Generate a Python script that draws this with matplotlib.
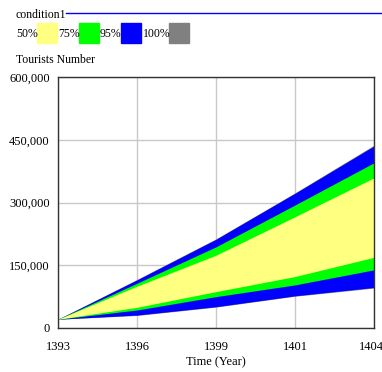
import matplotlib
matplotlib.use("Agg")
import matplotlib.pyplot as plt
import matplotlib.transforms as mtransforms
from matplotlib.patches import Rectangle
from matplotlib.lines import Line2D

years = [1393, 1395.75, 1398.5, 1401.25, 1404]
tick_labels = ["1393", "1396", "1399", "1401", "1404"]

# confidence bounds (tourists)
p100_hi = [21000, 116000, 213000, 323000, 437000]
p95_hi = [21000, 115000, 212000, 322000, 435000]
p75_hi = [21000, 107000, 194000, 294000, 395000]
p50_hi = [21000, 100000, 174000, 266000, 359000]
p50_lo = [21000, 49500, 87000, 123000, 169000]
p75_lo = [21000, 43000, 75000, 103000, 139000]
p95_lo = [21000, 31000, 51000, 77000, 97000]
p100_lo = [21000, 30000, 50000, 76000, 95500]

colors = {"50%": "#ffff80", "75%": "#00ff00", "95%": "#0000ff", "100%": "#808080"}

plt.rcParams['font.family'] = ['Liberation Serif', 'DejaVu Serif']
fs = 8.5

fig = plt.figure(figsize=(3.82, 3.72), dpi=100)
ax = fig.add_axes([58/382, 1-328/372, (374-58)/382, (328-77)/372])

ax.fill_between(years, p100_lo, p100_hi, color=colors["100%"], lw=0)
ax.fill_between(years, p95_lo, p95_hi, color=colors["95%"], lw=0)
ax.fill_between(years, p75_lo, p75_hi, color=colors["75%"], lw=0)
ax.fill_between(years, p50_lo, p50_hi, color=colors["50%"], lw=0)

ax.set_xlim(1393, 1404)
ax.set_ylim(0, 600000)
ax.set_xticks(years)
ax.set_xticklabels(tick_labels)
yt = [0, 150000, 300000, 450000, 600000]
ax.set_yticks(yt)
ax.set_yticklabels(["0"] + [f"{v:,}" for v in yt[1:]])
ax.grid(True, color="#c8c8c8", lw=1)
ax.set_axisbelow(True)
ax.tick_params(length=0, labelsize=fs + 0.5)
ax.tick_params(axis="x", pad=9)
ax.tick_params(axis="y", pad=6)
for s in ax.spines.values():
    s.set_color("#333333")
    s.set_linewidth(1)
ax.set_xlabel("Time (Year)", fontsize=fs + 0.5, labelpad=3)

# keep last year label inside the figure
last = ax.get_xticklabels()[-1]
last.set_transform(last.get_transform() +
                   mtransforms.ScaledTranslation(-3/100, 0, fig.dpi_scale_trans))

# header legend
fig.text(16/382, 1-15/372, "condition1", fontsize=fs, va="center")
fig.add_artist(Line2D([66/382, 1], [1-13/372, 1-13/372], color="#0000ff", lw=1))
labels = ["50%", "75%", "95%", "100%"]
text_x = [16, 58, 100, 143]
box_x = [37, 79, 121, 169]
for lab, tx, bx in zip(labels, text_x, box_x):
    fig.text(tx/382, 1-34/372, lab, fontsize=fs, va="center")
    fig.add_artist(Rectangle((bx/382, 1-43/372), 20/382, 20/372,
                             color=colors[lab], transform=fig.transFigure))
fig.text(16/382, 1-60/372, "Tourists Number", fontsize=fs, va="center")

fig.savefig("out.png", dpi=100)
